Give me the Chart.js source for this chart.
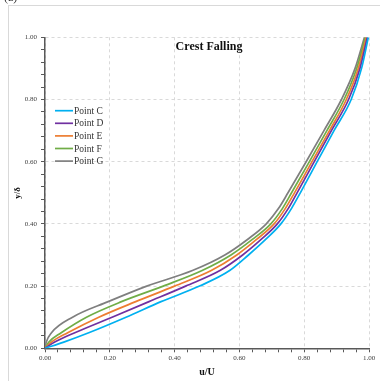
<!DOCTYPE html>
<html>
<head>
<meta charset="utf-8">
<script src="https://cdn.jsdelivr.net/npm/chart.js@4.4.1/dist/chart.umd.min.js"></script>
<style>
  html, body { margin: 0; padding: 0; background: #fff; }
  #wrap { width: 380px; height: 381px; position: relative; }
</style>
</head>
<body>
<div id="wrap"><canvas id="crestChart"></canvas></div>
<script>
// y/δ levels shared by all profiles, and u/U at those levels
const yLevels = [0, 0.02, 0.05, 0.1, 0.15, 0.2, 0.25, 0.3, 0.35, 0.4, 0.45, 0.5, 0.6, 0.7, 0.8, 0.9, 1.0];
const uPointC = [0, 0.058, 0.135, 0.250, 0.358, 0.477, 0.570, 0.628, 0.681, 0.728, 0.761, 0.788, 0.840, 0.892, 0.945, 0.977, 0.998];
const uPointD = [0, 0.030, 0.092, 0.207, 0.321, 0.434, 0.540, 0.610, 0.667, 0.717, 0.751, 0.778, 0.831, 0.884, 0.937, 0.972, 0.995];
const uPointE = [0, 0.020, 0.070, 0.166, 0.280, 0.400, 0.513, 0.592, 0.653, 0.707, 0.742, 0.770, 0.824, 0.878, 0.930, 0.967, 0.992];
const uPointF = [0, 0.012, 0.050, 0.128, 0.236, 0.365, 0.485, 0.574, 0.640, 0.697, 0.733, 0.761, 0.816, 0.870, 0.923, 0.962, 0.989];
const uPointG = [0, 0.004, 0.020, 0.085, 0.195, 0.314, 0.455, 0.555, 0.625, 0.683, 0.721, 0.750, 0.806, 0.861, 0.915, 0.957, 0.986];

const seriesNames = ['Point C', 'Point D', 'Point E', 'Point F', 'Point G'];
const seriesColors = ['#00B0F0', '#7030A0', '#ED7D31', '#70AD47', '#7F7F7F'];
const seriesU = [uPointC, uPointD, uPointE, uPointF, uPointG];

const chartTitle = 'Crest Falling';
const xTitle = 'u/U';
const yTitle = 'y/δ';

const SERIF = '"Liberation Serif", "Times New Roman", serif';

const isMajor = v => Math.abs(v * 5 - Math.round(v * 5)) < 1e-6;

const datasets = seriesNames.map((name, i) => ({
  label: name,
  data: yLevels.map((y, k) => ({ x: seriesU[i][k], y: y })),
  borderColor: seriesColors[i],
  backgroundColor: seriesColors[i],
  borderWidth: 1.7,
  pointRadius: 0,
  showLine: true,
  fill: false,
  cubicInterpolationMode: 'monotone'
}));

// frame, caption and in-plot title / legend
const decorations = {
  id: 'decorations',
  beforeDraw(chart) {
    const ctx = chart.ctx;
    ctx.save();
    ctx.fillStyle = '#fff';
    ctx.fillRect(0, 0, chart.width, chart.height);
    ctx.strokeStyle = '#d9d9d9';
    ctx.lineWidth = 1;
    ctx.strokeRect(8.5, 5.5, chart.width, chart.height);
    ctx.fillStyle = '#333';
    ctx.font = '12px ' + SERIF;
    ctx.textBaseline = 'alphabetic';
    ctx.fillText('(a)', 4, 1);
    ctx.restore();
  },
  afterDraw(chart) {
    const ctx = chart.ctx;
    const area = chart.chartArea;
    ctx.save();
    ctx.fillStyle = '#111';
    ctx.font = 'bold 12px ' + SERIF;
    ctx.textAlign = 'center';
    ctx.textBaseline = 'middle';
    ctx.fillText(chartTitle, (area.left + area.right) / 2 + 2, area.top + 9.5);

    ctx.font = '9.5px ' + SERIF;
    ctx.textAlign = 'left';
    chart.data.datasets.forEach((ds, i) => {
      const y = 110.7 + i * 12.6;
      ctx.strokeStyle = ds.borderColor;
      ctx.lineWidth = 1.7;
      ctx.beginPath();
      ctx.moveTo(area.left + 10, y);
      ctx.lineTo(area.left + 28, y);
      ctx.stroke();
      ctx.fillStyle = '#333';
      ctx.fillText(ds.label, area.left + 29, y + 0.5);
    });
    ctx.restore();
  }
};

const axisCommon = {
  type: 'linear',
  min: 0,
  max: 1,
  border: { display: true, color: '#595959', width: 1.5, dash: [3, 3] },
  grid: {
    color: c => (isMajor(c.tick.value) ? '#d9d9d9' : 'rgba(0,0,0,0)'),
    lineWidth: 1,
    drawTicks: true,
    tickLength: 4,
    tickColor: '#595959',
    tickWidth: 1,
    tickBorderDash: []
  },
  ticks: {
    stepSize: 0.04,
    maxTicksLimit: 30,
    autoSkip: false,
    maxRotation: 0,
    color: '#404040',
    font: { family: SERIF, size: 7 },
    callback: v => (isMajor(v) ? v.toFixed(2) : '')
  }
};

new Chart(document.getElementById('crestChart'), {
  type: 'scatter',
  data: { datasets: datasets },
  options: {
    responsive: true,
    maintainAspectRatio: false,
    animation: false,
    layout: { padding: { left: 0, right: 11, top: 37.3, bottom: 0 } },
    plugins: {
      legend: { display: false },
      tooltip: { enabled: false },
      title: { display: false }
    },
    scales: {
      x: {
        ...axisCommon,
        position: 'bottom',
        ticks: { ...axisCommon.ticks, padding: 2 },
        title: {
          display: true,
          text: xTitle,
          color: '#111',
          font: { family: SERIF, size: 10, weight: 'bold' },
          padding: { top: 0, bottom: 3 }
        },
        afterFit: scale => { scale.height = 32.7; }
      },
      y: {
        ...axisCommon,
        position: 'left',
        ticks: { ...axisCommon.ticks, padding: 4 },
        title: {
          display: true,
          text: yTitle,
          color: '#111',
          font: { family: SERIF, size: 9, weight: 'bold' },
          padding: { top: 12.6, bottom: 0 }
        },
        afterFit: scale => { scale.width = 45; }
      }
    }
  },
  plugins: [decorations]
});
</script>
</body>
</html>
